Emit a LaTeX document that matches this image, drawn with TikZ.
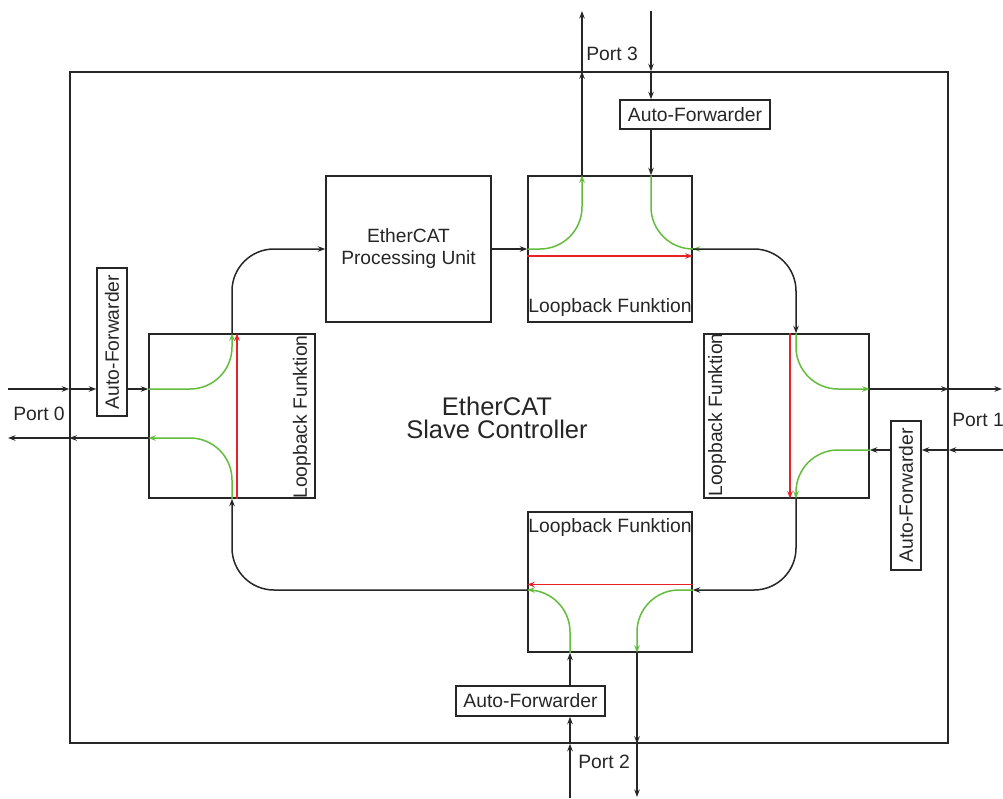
\documentclass[tikz,border=0pt]{standalone}
\usepackage{fontspec}
\setmainfont{Liberation Sans}
\usetikzlibrary{arrows.meta}
\definecolor{gline}{RGB}{100,188,60}
\definecolor{rline}{RGB}{232,32,40}
\begin{document}
\begin{tikzpicture}[x=1pt,y=-1pt,
  line width=1.5pt,
  tip/.style={-{Stealth[length=7.5pt,width=5.5pt,inset=2.5pt]}},
  arr/.style={draw=black!85,tip},
  garr/.style={draw=gline,tip,rounded corners=42pt},
  rarr/.style={draw=rline,tip},
  carr/.style={draw=black!85,tip,rounded corners=42pt},
  box/.style={draw=black!85,inner sep=0pt},
  lbl/.style={font=\fontsize{19.3}{20}\selectfont,inner sep=0pt,text=black!85},
]
\useasboundingbox (0,0) rectangle (1003,798);
% boxes
\node[box,minimum width=878pt,minimum height=671pt] (outer) at (509,407.5) {};
\node[box,minimum width=166pt,minimum height=164pt] (L) at (232,416) {};
\node[box,minimum width=164pt,minimum height=146pt] (T) at (610,249) {};
\node[box,minimum width=165pt,minimum height=164pt] (R) at (786.5,416) {};
\node[box,minimum width=164pt,minimum height=140pt] (B) at (610,582) {};
\node[box,minimum width=165pt,minimum height=146pt,lbl,align=center,font=\fontsize{19.2}{22}\selectfont] (PU) at (408.5,249) {EtherCAT\\Processing Unit};
\node[box,lbl,minimum width=150pt,minimum height=29pt] (AF3) at (695,114.5) {Auto-Forwarder};
\node[box,lbl,minimum width=149pt,minimum height=30pt] (AF2) at (530.5,701) {Auto-Forwarder};
\node[box,lbl,minimum width=148pt,minimum height=30pt,rotate=90] (AF0) at (112,342) {Auto-Forwarder};
\node[box,lbl,minimum width=149pt,minimum height=30pt,rotate=90] (AF1) at (906,495.5) {Auto-Forwarder};
% labels
\node[lbl,rotate=90] (Llbl) at (302,417) {Loopback Funktion};
\node[lbl] (Tlbl) at (610,308) {Loopback Funktion};
\node[lbl,rotate=90] (Rlbl) at (717,415) {Loopback Funktion};
\node[lbl] (Blbl) at (610,528) {Loopback Funktion};
\node[lbl] (P0) at (39,414) {Port 0};
\node[lbl] (P1) at (978,420) {Port 1};
\node[lbl] (P2) at (604,762) {Port 2};
\node[lbl] (P3) at (612,54) {Port 3};
\node[align=center,font=\fontsize{25.5}{23}\selectfont,text=black!85] (ESC) at (497,418) {EtherCAT\\Slave Controller};
% coordinates
\coordinate (p0i) at (8,389);
\coordinate (p0o) at (8,438);
\coordinate (p1o) at (1002,389);
\coordinate (p1i) at (1003,450);
\coordinate (p3o) at (582,11);
\coordinate (p3i) at (651,11);
\coordinate (p2i) at (570,798);
\coordinate (p2o) at (637,797);
\coordinate (rx) at (796,0);
\coordinate (by) at (0,590);
\coordinate (ry) at (0,584.5);
% Port 0
\draw[arr] (p0i) -- (p0i -| outer.west);
\draw[arr] (p0i -| outer.west) -- (p0i -| AF0.north);
\draw[arr] (p0i -| AF0.south) -- (p0i -| L.west);
\draw[arr] (p0o -| L.west) -- (p0o -| outer.west);
\draw[arr] (p0o -| outer.west) -- (p0o);
% L internal
\draw[garr] (p0i -| L.west) -- (p0i -| L.center) -- (L.north);
\draw[garr] (L.south) -- (p0o -| L.center) -- (p0o -| L.west);
\draw[rarr] ([xshift=5pt]L.south) -- ([xshift=5pt]L.north);
% L -> PU -> T
\draw[carr] (L.north) -- (L.north |- PU.west) -- (PU.west);
\draw[arr] (PU.east) -- (T.west);
% T internal
\draw[garr] (T.west) -- (T.west -| p3o) -- (p3o |- T.north);
\draw[garr] (p3i |- T.north) -- (p3i |- T.east) -- (T.east);
\draw[rarr] ([yshift=-7pt]T.west) -- ([yshift=-7pt]T.east);
% Port 3
\draw[arr] (p3o |- T.north) -- (p3o |- outer.north);
\draw[arr] (p3o |- outer.north) -- (p3o);
\draw[arr] (p3i) -- (p3i |- outer.north);
\draw[arr] (p3i |- outer.north) -- (p3i |- AF3.north);
\draw[arr] (p3i |- AF3.south) -- (p3i |- T.north);
% T -> R
\draw[carr] (T.east) -- (T.east -| rx) -- (rx |- R.north);
% R internal
\draw[garr] (rx |- R.north) -- (rx |- p1o) -- (p1o -| R.east);
\draw[garr] (p1i -| R.east) -- (p1i -| rx) -- (rx |- R.south);
\draw[rarr] ([xshift=-6pt]rx |- R.north) -- ([xshift=-6pt]rx |- R.south);
% Port 1
\draw[arr] (p1o -| R.east) -- (p1o -| outer.east);
\draw[arr] (p1o -| outer.east) -- (p1o);
\draw[arr] (p1i) -- (p1i -| outer.east);
\draw[arr] (p1i -| outer.east) -- (p1i -| AF1.south);
\draw[arr] (p1i -| AF1.north) -- (p1i -| R.east);
% R -> B
\draw[carr] (rx |- R.south) -- (rx |- by) -- (by -| B.east);
% B internal
\draw[rarr] (ry -| B.east) -- (ry -| B.west);
\draw[garr] (by -| B.east) -- (by -| p2o) -- (p2o |- B.south);
\draw[garr] (p2i |- B.south) -- (p2i |- by) -- (by -| B.west);
% Port 2
\draw[arr] (p2i) -- (p2i |- outer.south);
\draw[arr] (p2i |- outer.south) -- (p2i |- AF2.south);
\draw[arr] (p2i |- AF2.north) -- (p2i |- B.south);
\draw[arr] (p2o |- B.south) -- (p2o |- outer.south);
\draw[arr] (p2o |- outer.south) -- (p2o);
% B -> L
\draw[carr] (by -| B.west) -- (by -| L.center) -- (L.south);
\end{tikzpicture}
\end{document}
